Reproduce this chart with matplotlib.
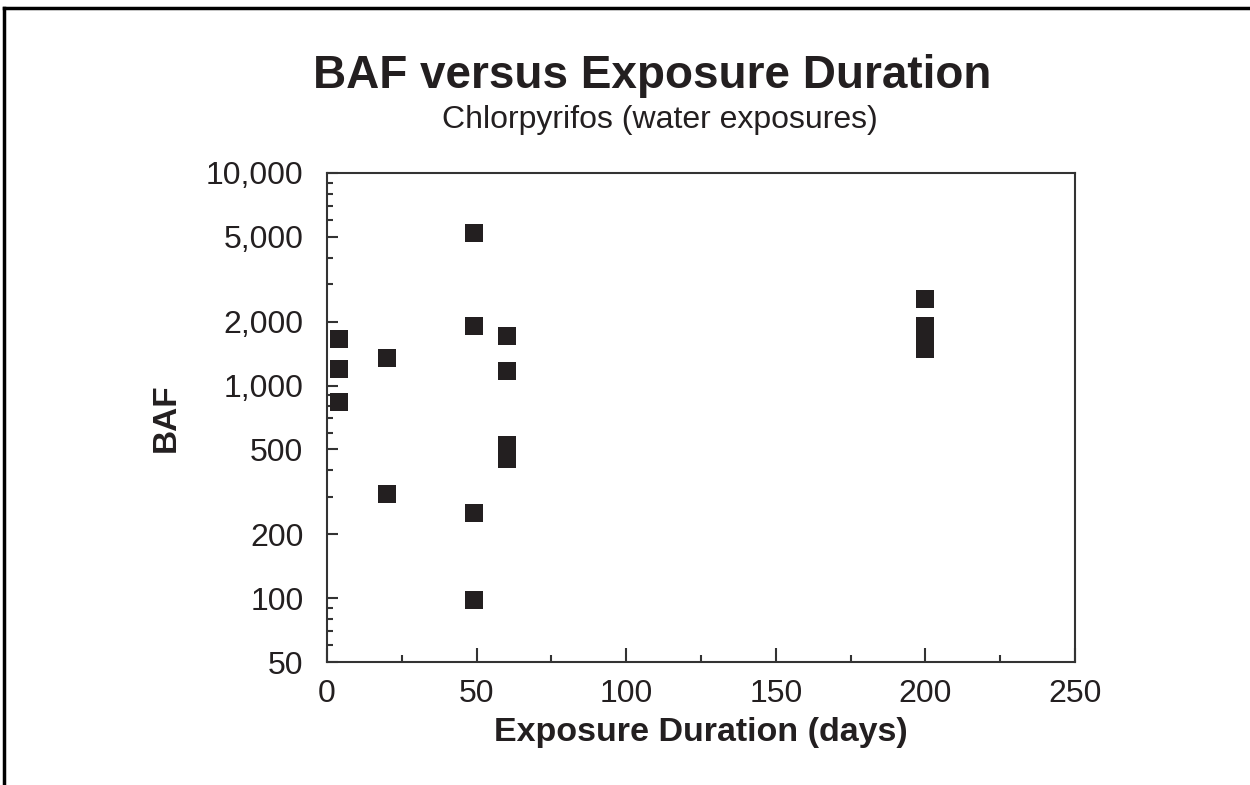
import numpy as np
import matplotlib.pyplot as plt
from matplotlib.ticker import FixedLocator, FuncFormatter, MultipleLocator
from matplotlib.lines import Line2D

plt.rcParams['font.family'] = ['Liberation Sans', 'DejaVu Sans']

# data (days, BAF)
days = [4, 4, 4, 20, 20, 49, 49, 49, 49, 60, 60, 60, 60, 60, 200, 200, 200, 200, 200]
baf = [1650, 1200, 840, 1350, 310, 5200, 1900, 250, 98, 1710, 1170, 525, 485, 450, 2550, 1900, 1750, 1600, 1480]

ytick_vals = [50, 100, 200, 500, 1000, 2000, 5000, 10000]

fig = plt.figure(figsize=(12.5, 7.85), dpi=100)
ax = fig.add_axes([327/1250, 1 - 662/785, (1075-327)/1250, (662-173)/785])

ax.plot(days, baf, 's', color='#231f20', markersize=12.5, markeredgewidth=0)

ax.set_yscale('log')
ax.set_xlim(0, 250)
ax.set_ylim(50, 10000)

ax.xaxis.set_major_locator(MultipleLocator(50))
ax.xaxis.set_minor_locator(MultipleLocator(25))
ax.yaxis.set_major_locator(FixedLocator(ytick_vals))
minors = [m * 10**e for e in range(1, 4) for m in range(2, 10)] + [10000]
ax.yaxis.set_minor_locator(FixedLocator([v for v in minors if v not in ytick_vals]))
ax.yaxis.set_major_formatter(FuncFormatter(lambda v, p: f'{int(v):,}'))
ax.yaxis.set_minor_formatter(FuncFormatter(lambda v, p: ''))

ax.tick_params(which='both', direction='in', top=False, right=False, colors='#333333',
               labelcolor='#231f20', labelsize=23, width=1.5)
ax.tick_params(axis='x', which='major', length=10, pad=12)
ax.tick_params(axis='x', which='minor', length=5)
ax.tick_params(axis='y', which='major', length=8, pad=17)
ax.tick_params(axis='y', which='minor', length=4)
for s in ax.spines.values():
    s.set_linewidth(1.5)
    s.set_color('#333333')

ax.set_xlabel('Exposure Duration (days)', fontsize=24.5, fontweight='bold', color='#231f20', labelpad=6)
ax.set_ylabel('BAF', fontsize=24, fontweight='bold', color='#231f20', labelpad=17)

fig.text(652/1250, 1 - 88/785, 'BAF versus Exposure Duration', ha='center', va='baseline',
         fontsize=33, fontweight='bold', color='#231f20')
fig.text(660/1250, 1 - 128/785, 'Chlorpyrifos (water exposures)', ha='center', va='baseline',
         fontsize=23, color='#231f20')

# frame lines at top and left edge
fig.add_artist(Line2D([4/1250, 1], [1 - 8/785, 1 - 8/785], color='black', lw=2.5))
fig.add_artist(Line2D([4/1250, 4/1250], [0, 1 - 8/785], color='black', lw=2.5))

fig.savefig('out.png', dpi=100)
